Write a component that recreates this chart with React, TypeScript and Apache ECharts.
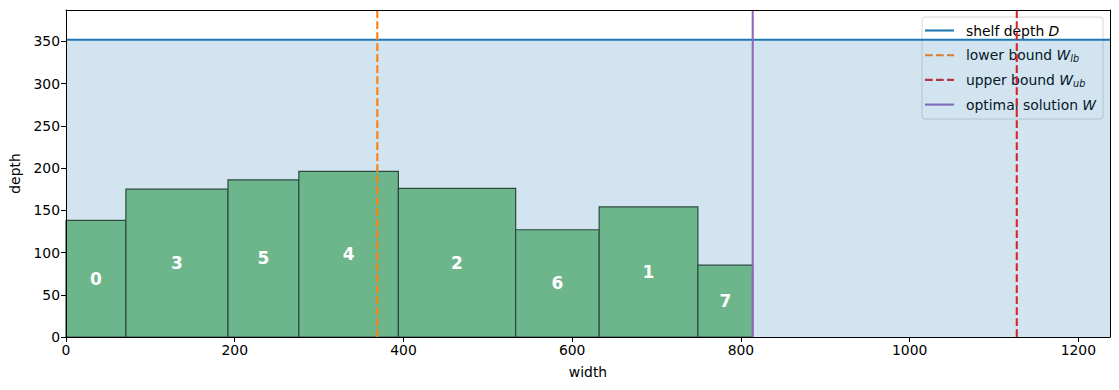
import React, { useEffect, useRef } from "react";
import * as echarts from "echarts";

// ---- data ----
const itemIds = [0, 3, 5, 4, 2, 6, 1, 7];
const itemWidths = [71, 121, 84, 118, 139, 99, 117, 65];
const itemDepths = [138, 175, 186, 196, 176, 127, 154, 85];
const shelfDepth = 352;
const lowerBound = 369;
const upperBound = 1127;
const optimalW = 814;
const xTicks = [0, 200, 400, 600, 800, 1000, 1200];
const yTicks = [0, 50, 100, 150, 200, 250, 300, 350];

const X_MAX = 1237.5;
const Y_MAX = shelfDepth * 1.1;

const FONT = "DejaVu Sans";

export default function App() {
  const ref = useRef<HTMLDivElement>(null);
  useEffect(() => {
    if (!ref.current) return;
    const chart = echarts.init(ref.current, undefined, { renderer: "svg" });

    // bar table built from data
    const barData: number[][] = [];
    let acc = 0;
    itemIds.forEach((id, i) => {
      barData.push([acc, acc + itemWidths[i], itemDepths[i], id]);
      acc += itemWidths[i];
    });

    const spine = {
      axisLine: { show: true, onZero: false, lineStyle: { color: "#000", width: 1 } },
      axisTick: { show: false },
      axisLabel: { show: false },
      splitLine: { show: false },
    };

    const legendRows = [
      { text: "shelf depth {i|D}", color: "#1f77b4", dash: "solid" },
      { text: "lower bound {i|W}{s|lb}", color: "#ff7f0e", dash: [7.7, 3.3] },
      { text: "upper bound {i|W}{s|ub}", color: "#d62728", dash: [7.7, 3.3] },
      { text: "optimal solution {i|W}", color: "#9467bd", dash: "solid" },
    ];
    const lgX = 922, lgY = 17, lgRow = 24.7;
    const legendChildren: any[] = [
      {
        type: "rect",
        shape: { x: lgX, y: lgY, width: 181, height: 102, r: 3 },
        style: { fill: "rgba(255,255,255,0.8)", stroke: "#d6d6d6", lineWidth: 1 },
      },
    ];
    legendRows.forEach((r, i) => {
      const cy = lgY + 13.5 + i * lgRow;
      legendChildren.push({
        type: "line",
        shape: { x1: lgX + 3, y1: cy, x2: lgX + 32, y2: cy },
        style: { stroke: r.color, lineWidth: 2.1, lineDash: r.dash === "solid" ? null : r.dash },
      });
      legendChildren.push({
        type: "text",
        style: {
          text: r.text,
          x: lgX + 44,
          y: cy,
          verticalAlign: "middle",
          fill: "#000",
          fontFamily: FONT,
          fontSize: 13.9,
          rich: {
            i: { fontFamily: FONT, fontSize: 13.9, fontStyle: "italic", fill: "#000" },
            s: {
              fontFamily: FONT,
              fontSize: 9.7,
              fontStyle: "italic",
              fill: "#000",
              padding: [7, 0, 0, 0],
            },
          },
        },
      });
    });

    chart.setOption({
      animation: false,
      grid: { left: 66, right: 9, top: 10, bottom: 53, containLabel: false },
      xAxis: [
        {
          type: "value",
          min: 0,
          max: X_MAX,
          z: 10,
          axisLine: { show: true, onZero: false, lineStyle: { color: "#000", width: 1 } },
          axisTick: {
            show: true,
            length: 5,
            customValues: xTicks,
            lineStyle: { color: "#000", width: 1 },
          },
          splitLine: { show: false },
          axisLabel: {
            color: "#000",
            fontFamily: FONT,
            fontSize: 13.9,
            margin: 6,
            customValues: xTicks,
            formatter: (v: number) => String(v),
          },
          name: "width",
          nameLocation: "middle",
          nameGap: 28,
          nameTextStyle: { color: "#000", fontFamily: FONT, fontSize: 13.9 },
        },
        { type: "value", position: "top", min: 0, max: X_MAX, z: 10, ...spine },
      ],
      yAxis: [
        {
          type: "value",
          min: 0,
          max: Y_MAX,
          z: 10,
          axisLine: { show: true, onZero: false, lineStyle: { color: "#000", width: 1 } },
          axisTick: {
            show: true,
            length: 5,
            customValues: yTicks,
            lineStyle: { color: "#000", width: 1 },
          },
          splitLine: { show: false },
          axisLabel: {
            color: "#000",
            fontFamily: FONT,
            fontSize: 13.9,
            margin: 6,
            customValues: yTicks,
            formatter: (v: number) => String(v),
          },
          name: "depth",
          nameLocation: "middle",
          nameGap: 44,
          nameTextStyle: { color: "#000", fontFamily: FONT, fontSize: 13.9 },
        },
        { type: "value", position: "right", min: 0, max: Y_MAX, z: 10, ...spine },
      ],
      series: [
        {
          name: "shelf depth D",
          type: "line",
          z: 1,
          symbol: "none",
          data: [
            [0, shelfDepth],
            [X_MAX, shelfDepth],
          ],
          lineStyle: { color: "#1f77b4", width: 2.1 },
          areaStyle: { color: "rgba(31,119,180,0.2)", opacity: 1 },
        },
        {
          name: "items",
          type: "custom",
          z: 2,
          data: barData,
          encode: { x: [0, 1], y: 2 },
          renderItem: (params: any, api: any) => {
            const x0 = api.value(0);
            const x1 = api.value(1);
            const h = api.value(2);
            const id = api.value(3);
            const p0 = api.coord([x0, h]);
            const p1 = api.coord([x1, 0]);
            return {
              type: "group",
              children: [
                {
                  type: "rect",
                  shape: { x: p0[0], y: p0[1], width: p1[0] - p0[0], height: p1[1] - p0[1] },
                  style: { fill: "#6db58a", stroke: "#2d4a40", lineWidth: 1.2 },
                },
                {
                  type: "text",
                  style: {
                    text: String(id),
                    x: (p0[0] + p1[0]) / 2,
                    y: (p0[1] + p1[1]) / 2,
                    align: "center",
                    verticalAlign: "middle",
                    fill: "#fff",
                    fontFamily: FONT,
                    fontWeight: "bold",
                    fontSize: 17,
                  },
                },
              ],
            };
          },
        },
        {
          name: "lower bound",
          type: "line",
          z: 3,
          symbol: "none",
          data: [
            [lowerBound, 0],
            [lowerBound, Y_MAX],
          ],
          lineStyle: { color: "#ff7f0e", width: 2.1, type: [7.7, 3.3] },
        },
        {
          name: "upper bound",
          type: "line",
          z: 3,
          symbol: "none",
          data: [
            [upperBound, 0],
            [upperBound, Y_MAX],
          ],
          lineStyle: { color: "#d62728", width: 2.1, type: [7.7, 3.3] },
        },
        {
          name: "optimal solution",
          type: "line",
          z: 3,
          symbol: "none",
          data: [
            [optimalW, 0],
            [optimalW, Y_MAX],
          ],
          lineStyle: { color: "#9467bd", width: 2.1 },
        },
      ],
      graphic: [{ type: "group", z: 100, children: legendChildren }],
    });
    return () => chart.dispose();
  }, []);
  return <div ref={ref} style={{ width: 1119, height: 390, position: "absolute", left: 0, top: 0 }} />;
}
